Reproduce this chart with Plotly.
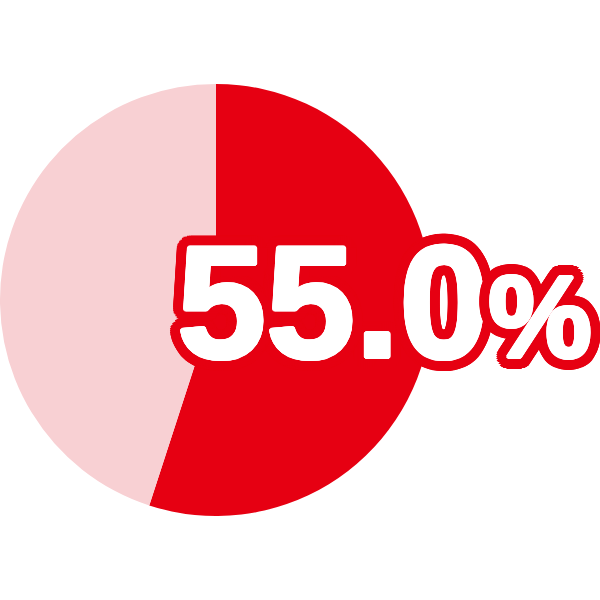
import math
import plotly.graph_objects as go

labels = ["該当", "非該当"]
values = [55.0, 45.0]
colors = ["#E60012", "#F8D0D3"]
label_text = "55.0"
label_suffix = "%"

W = H = 600
cx, cy, r = 216, 300, 216

fig = go.Figure()
fig.add_trace(go.Pie(
    labels=labels, values=values, sort=False, direction="clockwise", rotation=0,
    marker=dict(colors=colors, line=dict(width=0)),
    textinfo="none", hoverinfo="none", showlegend=False,
    domain=dict(x=[(cx - r) / W, (cx + r) / W], y=[1 - (cy + r) / H, 1 - (cy - r) / H]),
))

# thicken glyph (white) then outline (red) via multiple text-shadows
shadows = []
for rad in (2, 1):
    n = 16
    for i in range(n):
        a = 2 * math.pi * i / n
        shadows.append(f"{rad*math.cos(a):.1f}px {rad*math.sin(a):.1f}px 0 #FFFFFF")
for rad in (12, 10, 8, 6, 4):
    n = 40
    for i in range(n):
        a = 2 * math.pi * i / n
        shadows.append(f"{rad*math.cos(a):.1f}px {rad*math.sin(a):.1f}px 0 #E60012")
shadow = ", ".join(shadows)

fig.add_annotation(
    x=384 / W, y=1 - 301 / H, xref="paper", yref="paper",
    xanchor="center", yanchor="middle", showarrow=False,
    text=f"{label_text}<span style='font-size:116px'>{label_suffix}</span>",
    font=dict(family="Liberation Sans, Arial, sans-serif", size=160, color="white",
              weight="bold", shadow=shadow),
)

fig.update_layout(
    width=W, height=H, margin=dict(l=0, r=0, t=0, b=0),
    paper_bgcolor="white", plot_bgcolor="white",
)
fig.write_html("out.html", config={"displayModeBar": False, "staticPlot": True},
               post_script="document.body.style.margin='0';")
